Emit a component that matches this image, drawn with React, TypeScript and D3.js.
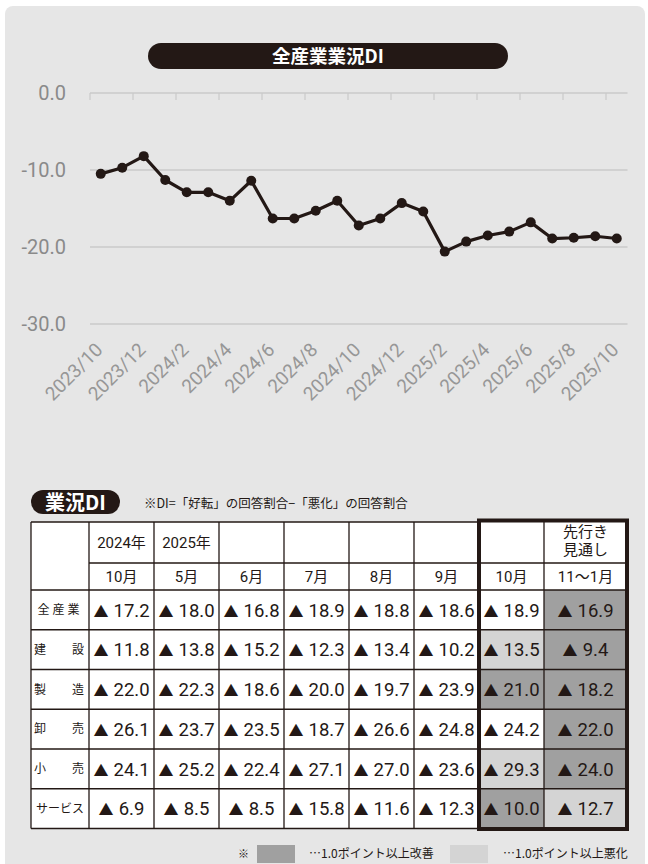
import * as d3 from "d3";

const months = [
  "2023/10", "2023/11", "2023/12", "2024/1", "2024/2", "2024/3", "2024/4",
  "2024/5", "2024/6", "2024/7", "2024/8", "2024/9", "2024/10", "2024/11",
  "2024/12", "2025/1", "2025/2", "2025/3", "2025/4", "2025/5", "2025/6",
  "2025/7", "2025/8", "2025/9", "2025/10",
];
const allIndustryDI = [
  -10.5, -9.7, -8.2, -11.3, -12.9, -12.9, -14.0, -11.4, -16.3, -16.3, -15.3,
  -14.0, -17.2, -16.3, -14.3, -15.4, -20.6, -19.3, -18.5, -18.0, -16.8, -18.9,
  -18.8, -18.6, -18.9,
];
const yTicks = [0, -10, -20, -30];

const headerYears = ["", "2024年", "2025年", "", "", "", "", "", "先行き|見通し"];
const headerMonths = ["", "10月", "5月", "6月", "7月", "8月", "9月", "10月", "11～1月"];
const industries = ["全産業", "建設", "製造", "卸売", "小売", "サービス"];
const diValues = [
  [17.2, 18.0, 16.8, 18.9, 18.8, 18.6, 18.9, 16.9],
  [11.8, 13.8, 15.2, 12.3, 13.4, 10.2, 13.5, 9.4],
  [22.0, 22.3, 18.6, 20.0, 19.7, 23.9, 21.0, 18.2],
  [26.1, 23.7, 23.5, 18.7, 26.6, 24.8, 24.2, 22.0],
  [24.1, 25.2, 22.4, 27.1, 27.0, 23.6, 29.3, 24.0],
  [6.9, 8.5, 8.5, 15.8, 11.6, 12.3, 10.0, 12.7],
];
// last two columns: "up" = 1.0pt以上改善, "down" = 1.0pt以上悪化
const latestShade = [
  ["", "up"],
  ["down", "up"],
  ["up", "up"],
  ["", "up"],
  ["down", "up"],
  ["up", "down"],
];

const INK = "#231815";
const UP = "#a0a0a0";
const DOWN = "#d4d4d4";
const FONT = "Roboto, 'Noto Sans CJK JP', sans-serif";
const JP = "'Noto Sans CJK JP', sans-serif";

export default function App() {
  const W = 648;
  const H = 864;

  // line chart
  const x = d3.scaleBand().domain(months).range([90, 627.5]);
  const y = d3.scaleLinear().domain([-30, 0]).range([324, 93]);
  const cx = (m: string) => (x(m) ?? 0) + x.bandwidth() / 2;
  const line = d3
    .line<number>()
    .x((_, i) => cx(months[i]))
    .y((d) => y(d));
  const labelMonths = months.filter((_, i) => i % 2 === 0);

  // table
  const colEdges = [31, 89];
  const mid = d3.scaleBand().domain(d3.range(7).map(String)).range([89, 544]);
  mid.domain().forEach((k) => colEdges.push((mid(k) ?? 0) + mid.bandwidth()));
  colEdges.push(627);
  const rowScale = d3.scaleBand().domain(industries).range([590, 828.5]);
  const hdrTop = 522;
  const hdrMid = 563;
  const hdrBot = 590;
  const tableBot = 828.5;
  const boxL = colEdges[7];
  const boxR = colEdges[9];

  return (
    <div style={{ position: "absolute", left: 0, top: 0 }}>
      <svg width={W} height={H} style={{ display: "block" }}>
        <rect x={5} y={6} width={640} height={870} rx={8} fill="#e6e6e6" />

        {/* title */}
        <rect x={148} y={43} width={360} height={26} rx={13} fill={INK} />
        <text x={328} y={62.5} textAnchor="middle" fill="#fff" fontFamily={JP} fontWeight={700} fontSize={18.5}>
          全産業業況DI
        </text>

        {/* grid */}
        {yTicks.map((t) => (
          <g key={t}>
            <line x1={90} x2={627.5} y1={y(t)} y2={y(t)} stroke="#cacaca" strokeWidth={1.5} />
            <text x={66} y={y(t)} dy="0.35em" textAnchor="end" fill="#8a8a8a" fontFamily={FONT} fontSize={20}>
              {t.toFixed(1)}
            </text>
          </g>
        ))}
        {d3.range(0, months.length, 2).map((i) => (
          <line key={i} x1={x(months[i])} x2={x(months[i])} y1={y(0)} y2={y(0) + 7} stroke="#cacaca" strokeWidth={1.2} />
        ))}
        {labelMonths.map((m) => (
          <text
            key={m}
            transform={`translate(${cx(m) + 3},${351}) rotate(-45)`}
            textAnchor="end"
            fill="#979797"
            fontFamily={FONT}
            fontSize={19}
          >
            {m}
          </text>
        ))}

        <path d={line(allIndustryDI) ?? ""} fill="none" stroke={INK} strokeWidth={3.2} strokeLinejoin="round" />
        {allIndustryDI.map((v, i) => (
          <circle key={i} cx={cx(months[i])} cy={y(v)} r={5} fill={INK} />
        ))}

        {/* table heading */}
        <rect x={31} y={490} width={89} height={24} rx={12} fill={INK} />
        <text x={45} y={509.5} fill="#fff" fontFamily={JP} fontWeight={700} fontSize={20}>
          業況DI
        </text>
        <text x={144} y={508} fill={INK} fontFamily={JP} fontSize={12.5}>
          ※DI=「好転」の回答割合−「悪化」の回答割合
        </text>

        {/* cells */}
        <rect x={31} y={hdrTop} width={boxR - 31} height={tableBot - hdrTop} fill="#fff" />
        {industries.map((ind, r) =>
          latestShade[r].map((s, k) =>
            s ? (
              <rect
                key={ind + k}
                x={colEdges[7 + k]}
                y={rowScale(ind)}
                width={colEdges[8 + k] - colEdges[7 + k]}
                height={rowScale.bandwidth()}
                fill={s === "up" ? UP : DOWN}
              />
            ) : null
          )
        )}

        {/* grid lines */}
        <g stroke={INK} strokeWidth={1.3}>
          <line x1={31} x2={boxL} y1={hdrTop} y2={hdrTop} />
          <line x1={colEdges[1]} x2={boxR} y1={hdrMid} y2={hdrMid} />
          {[hdrBot, ...industries.map((d) => (rowScale(d) ?? 0) + rowScale.bandwidth())].map((yy) => (
            <line key={yy} x1={31} x2={boxR} y1={yy} y2={yy} />
          ))}
          {colEdges.slice(0, 9).map((xx) => (
            <line key={xx} x1={xx} x2={xx} y1={hdrTop} y2={tableBot} />
          ))}
        </g>
        <rect x={boxL} y={520.5} width={boxR - boxL} height={tableBot - 520.5 + 0.5} fill="none" stroke={INK} strokeWidth={4} />

        {/* header texts */}
        {headerYears.map((t, c) =>
          t
            ? t.split("|").map((part, j, arr) => (
                <text
                  key={c + part}
                  x={(colEdges[c] + colEdges[c + 1]) / 2}
                  y={arr.length > 1 ? 537 + j * 18 : 548}
                  textAnchor="middle"
                  fill={INK}
                  fontFamily={FONT}
                  fontSize={15}
                >
                  {part}
                </text>
              ))
            : null
        )}
        {headerMonths.map((t, c) =>
          t ? (
            <text
              key={"m" + c}
              x={(colEdges[c] + colEdges[c + 1]) / 2}
              y={582}
              textAnchor="middle"
              fill={INK}
              fontFamily={FONT}
              fontSize={15}
            >
              {t}
            </text>
          ) : null
        )}

        {/* row labels and values */}
        {industries.map((ind, r) => {
          const yc = (rowScale(ind) ?? 0) + rowScale.bandwidth() / 2;
          return (
            <g key={ind}>
              {ind.length === 2 ? (
                <>
                  <text x={34} y={yc} dy="0.35em" fill={INK} fontFamily={JP} fontSize={12}>
                    {ind[0]}
                  </text>
                  <text x={84} y={yc} dy="0.35em" textAnchor="end" fill={INK} fontFamily={JP} fontSize={12}>
                    {ind[1]}
                  </text>
                </>
              ) : (
                <text
                  x={60}
                  y={yc}
                  dy="0.35em"
                  textAnchor="middle"
                  fill={INK}
                  fontFamily={JP}
                  fontSize={12}
                  letterSpacing={ind.length === 3 ? 3 : 0}
                >
                  {ind}
                </text>
              )}
              {diValues[r].map((v, c) => (
                <text
                  key={c}
                  x={(colEdges[c + 1] + colEdges[c + 2]) / 2}
                  y={yc}
                  dy="0.36em"
                  textAnchor="middle"
                  fill={INK}
                  fontFamily={FONT}
                  fontSize={18.5}
                >
                  <tspan fontFamily={JP} fontSize={15}>▲</tspan>
                  <tspan dx={0.5}>{" " + v.toFixed(1)}</tspan>
                </text>
              ))}
            </g>
          );
        })}

        {/* legend */}
        <text x={238} y={858} fill={INK} fontFamily={JP} fontSize={11}>※</text>
        <rect x={257} y={845} width={38} height={18} fill={UP} />
        <text x={309} y={858} fill={INK} fontFamily={JP} fontSize={12}>…1.0ポイント以上改善</text>
        <rect x={450} y={845} width={38} height={18} fill={DOWN} />
        <text x={503} y={858} fill={INK} fontFamily={JP} fontSize={12}>…1.0ポイント以上悪化</text>
      </svg>
    </div>
  );
}
